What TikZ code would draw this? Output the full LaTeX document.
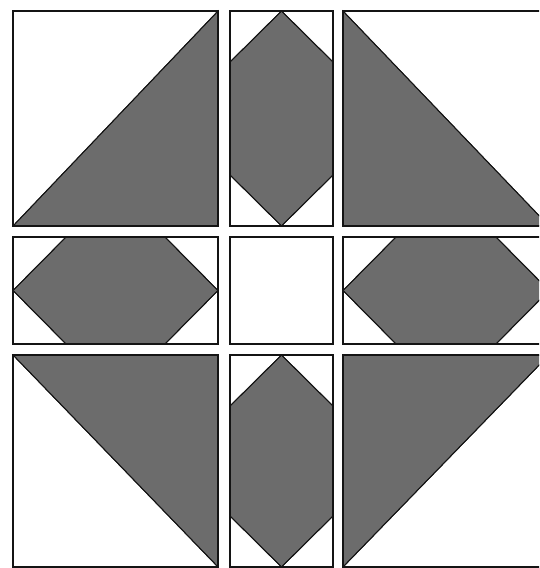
\documentclass[tikz,border=0pt]{standalone}
\usepackage{tikz}
\usepackage{xcolor}
\definecolor{fabric}{RGB}{108,108,108}
\definecolor{seam}{RGB}{20,20,20}
\tikzset{
  patch/.style={
    fill=fabric, draw=seam, line width=0.9pt, line join=miter
  },
  block/.style={
    draw=seam, line width=2.2pt
  },
}

\begin{document}
\begin{tikzpicture}[x=1pt, y=-1pt]
  \useasboundingbox (0,0) rectangle (539,568);
  \clip (0,0) rectangle (539,568);
  % top row
  \fill[patch] (13,226) -- (218,11) -- (218,226) -- cycle;
  \fill[patch] (281.5,11) -- (333,62) -- (333,175) -- (281.5,226) -- (230,175) -- (230,62) -- cycle;
  \fill[patch] (343,11) -- (549,226) -- (343,226) -- cycle;
  % middle row
  \fill[patch] (13,290.5) -- (66,237) -- (165,237) -- (218,290.5) -- (165,344) -- (66,344) -- cycle;
  \fill[patch] (343,290.5) -- (396,237) -- (496,237) -- (549,290.5) -- (496,344) -- (396,344) -- cycle;
  % bottom row
  \fill[patch] (13,355) -- (218,355) -- (218,567) -- cycle;
  \fill[patch] (281.5,355) -- (333,406) -- (333,516) -- (281.5,567) -- (230,516) -- (230,406) -- cycle;
  \fill[patch] (343,355) -- (549,355) -- (343,567) -- cycle;
  % outlines
  \draw[patch, fill=none] (13,226) -- (218,11);
  \draw[patch, fill=none] (281.5,11) -- (333,62) (333,175) -- (281.5,226) -- (230,175) (230,62) -- (281.5,11);
  \draw[patch, fill=none] (343,11) -- (549,226);
  \draw[patch, fill=none] (13,290.5) -- (66,237) (165,237) -- (218,290.5) -- (165,344) (66,344) -- (13,290.5);
  \draw[patch, fill=none] (343,290.5) -- (396,237) (496,237) -- (549,290.5) -- (496,344) (396,344) -- (343,290.5);
  \draw[patch, fill=none] (13,355) -- (218,567);
  \draw[patch, fill=none] (281.5,355) -- (333,406) (333,516) -- (281.5,567) -- (230,516) (230,406) -- (281.5,355);
  \draw[patch, fill=none] (549,355) -- (343,567);
  % blocks
  \draw[block] (13,11) rectangle (218,226);
  \draw[block] (230,11) rectangle (333,226);
  \draw[block] (343,11) rectangle (549,226);
  \draw[block] (13,237) rectangle (218,344);
  \draw[block] (230,237) rectangle (333,344);
  \draw[block] (343,237) rectangle (549,344);
  \draw[block] (13,355) rectangle (218,567);
  \draw[block] (230,355) rectangle (333,567);
  \draw[block] (343,355) rectangle (549,567);
\end{tikzpicture}
\end{document}
